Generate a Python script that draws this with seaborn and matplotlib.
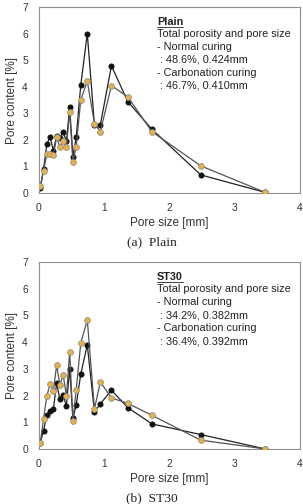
import matplotlib
matplotlib.use("Agg")
import matplotlib.pyplot as plt
from matplotlib.ticker import MultipleLocator
import seaborn as sns
import pandas as pd

pore_size = [0.02, 0.07, 0.12, 0.17, 0.22, 0.27, 0.32, 0.37, 0.42, 0.47, 0.52, 0.57,
             0.64, 0.74, 0.85, 0.94, 1.11, 1.36, 1.73, 2.48, 3.47]

plain_normal = [0.19, 0.90, 1.84, 2.12, 1.59, 2.15, 2.06, 2.31, 1.94, 3.22, 1.37, 2.10,
                4.06, 6.00, 2.56, 2.56, 4.79, 3.44, 2.40, 0.68, 0.02]
plain_carb = [0.25, 0.84, 1.47, 1.47, 1.42, 2.09, 1.74, 1.96, 1.74, 3.05, 1.18, 1.74,
              3.51, 4.21, 2.61, 2.31, 4.04, 3.62, 2.31, 1.02, 0.02]

st30_normal = [0.24, 0.68, 1.28, 1.41, 1.49, 2.46, 1.86, 2.01, 1.61, 3.01, 1.15, 1.65,
               2.80, 3.90, 1.38, 1.69, 2.20, 1.55, 0.94, 0.54, 0.0]
st30_carb = [0.24, 1.13, 1.99, 2.43, 2.16, 3.14, 2.40, 2.78, 1.99, 3.64, 1.06, 2.21,
             3.96, 4.83, 1.50, 2.51, 1.91, 1.71, 1.26, 0.33, 0.0]

panels = [
    ("Plain", ["Total porosity and pore size", "- Normal curing", " : 48.6%, 0.424mm",
               "- Carbonation curing", " : 46.7%, 0.410mm"], plain_normal, plain_carb, "(a)  Plain"),
    ("ST30", ["Total porosity and pore size", "- Normal curing", " : 34.2%, 0.382mm",
              "- Carbonation curing", " : 36.4%, 0.392mm"], st30_normal, st30_carb, "(b)  ST30"),
]

sns.set_theme(style="white")
plt.rcParams['font.family'] = ['Liberation Sans', 'DejaVu Sans']

W, H = 303, 504
fig = plt.figure(figsize=(W / 100, H / 100), dpi=100)

axes_px = [(39, 7, 300, 193), (39, 262, 300, 449)]
caption_y = [242, 498]

orange = "#E8B04A"
for (title, lines, normal, carb, caption), (l, t, r, b), cy in zip(panels, axes_px, caption_y):
    ax = fig.add_axes([l / W, 1 - b / H, (r - l) / W, (b - t) / H])
    df = pd.DataFrame({"x": pore_size, "normal": normal, "carb": carb})
    sns.lineplot(data=df, x="x", y="carb", ax=ax, color="#555555", lw=0.9,
                 marker="o", markersize=4.2, markerfacecolor=orange,
                 markeredgecolor="#888888", markeredgewidth=0.5, zorder=3)
    sns.lineplot(data=df, x="x", y="normal", ax=ax, color="#222222", lw=0.9,
                 marker="o", markersize=3.8, markerfacecolor="#111111",
                 markeredgecolor="#111111", markeredgewidth=0.5, zorder=2)
    ax.set_xlim(0, 4)
    ax.set_ylim(0, 7)
    ax.xaxis.set_major_locator(MultipleLocator(1))
    ax.xaxis.set_minor_locator(MultipleLocator(0.5))
    ax.yaxis.set_major_locator(MultipleLocator(1))
    ax.yaxis.set_minor_locator(MultipleLocator(0.5))
    ax.tick_params(which="both", direction="out", length=2.5, width=0.6, color="#888888",
                   labelsize=7.4, labelcolor="#333333")
    ax.tick_params(axis="x", which="major", pad=4.5)
    ax.tick_params(axis="y", which="major", pad=5.5)
    ax.tick_params(which="minor", length=2.0)
    for s in ax.spines.values():
        s.set_color("#909090")
        s.set_linewidth(0.8)
    ax.set_xlabel("Pore size [mm]", fontsize=8.5, color="#333333", labelpad=3)
    ax.set_ylabel("Pore content [%]", fontsize=8.5, color="#333333", labelpad=3)
    tx = 0.452
    ax.text(tx, 0.905, title, transform=ax.transAxes, fontsize=7.8, fontweight="bold",
            color="#222222", va="baseline")
    tt = ax.texts[-1]
    fig.canvas.draw()
    bb = tt.get_window_extent().transformed(ax.transAxes.inverted())
    ax.plot([bb.x0, bb.x1], [0.893, 0.893], transform=ax.transAxes, color="#222222", lw=0.6)
    for i, line in enumerate(lines):
        ax.text(tx, 0.837 - i * 0.069, line, transform=ax.transAxes, fontsize=7.8,
                color="#222222", va="baseline")
    fig.text(152 / W, 1 - cy / H, caption, ha="center", va="center", fontsize=9.7,
             family=["Liberation Serif", "DejaVu Serif"], color="#222222")

fig.savefig("out.png", dpi=100)
